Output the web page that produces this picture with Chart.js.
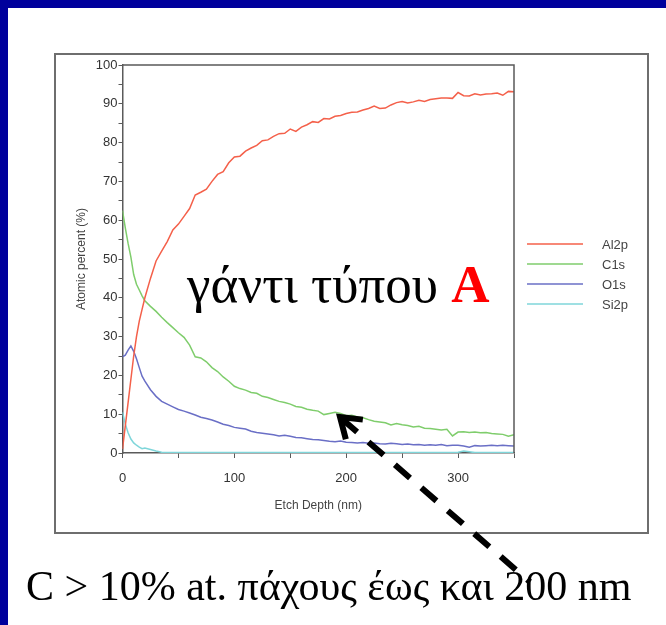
<!DOCTYPE html>
<html>
<head>
<meta charset="utf-8">
<script src="https://cdn.jsdelivr.net/npm/chart.js@4.4.1/dist/chart.umd.min.js"></script>
<style>
  html, body { margin: 0; padding: 0; background: #fff; }
  #wrap { width: 666px; height: 625px; }
</style>
</head>
<body>
<div id="wrap"><canvas id="graph1" width="666" height="625"></canvas></div>
<script>
// etch depth (nm)
var depth = [0, 2.5, 5, 7.5, 10, 12.5, 15, 17.5, 20,
    25, 30, 35, 40, 45, 50, 55, 60, 65, 70, 75, 80, 85, 90, 95, 100,
    105, 110, 115, 120, 125, 130, 135, 140, 145, 150, 155, 160, 165, 170, 175, 180,
    185, 190, 195, 200, 205, 210, 215, 220, 225, 230, 235, 240, 245, 250, 255, 260,
    265, 270, 275, 280, 285, 290, 295, 300, 305, 310, 315, 320, 325, 330, 335, 340, 345, 350];

var al2p = [1, 7, 13, 19, 25, 30, 34, 37, 40,
    45, 49.5, 52, 54.5, 57.5, 59, 61, 63, 66.5, 67.2, 68, 70, 71.8, 72.5, 74.8, 76.3,
    76.5, 77.8, 78.6, 79.3, 80.5, 80.7, 81.6, 82.3, 82.4, 83.5, 82.9, 84.0, 84.6, 85.4, 85.2, 86.2,
    86.1, 86.8, 87.0, 87.5, 87.8, 87.9, 88.4, 88.8, 89.4, 88.8, 88.9, 89.7, 90.3, 90.6, 90.2, 90.5,
    90.9, 90.6, 91.1, 91.3, 91.5, 91.5, 91.4, 92.9, 92.1, 92.0, 92.6, 92.3, 92.5, 92.6, 92.8, 92.2, 93.2, 93.1];

var c1s = [62.5, 58, 54, 50.5, 46, 43.5, 42, 40.5, 39.2,
    37.8, 36.5, 35, 33.6, 32.3, 31.0, 29.8, 27.8, 24.8, 24.5, 23.5, 22.0, 21.0, 19.6, 18.5, 17.2,
    16.6, 16.2, 15.6, 15.4, 14.6, 14.3, 13.8, 13.3, 13.0, 12.6, 12.0, 11.8, 11.3, 11.0, 10.8, 9.9,
    10.2, 10.5, 10.2, 9.6, 9.7, 9.3, 9.1, 8.6, 8.2, 8.0, 7.8, 7.2, 7.6, 7.3, 7.1, 6.7,
    6.9, 6.4, 6.3, 6.1, 5.9, 6.1, 4.4, 5.4, 5.5, 5.3, 5.4, 5.2, 5.3, 5.0, 4.9, 4.8, 4.3, 4.7];

var o1s = [24.8, 25.2, 26.5, 27.6, 26.2, 24.3, 22.0, 19.8, 18.5,
    16.3, 14.6, 13.3, 12.6, 11.9, 11.2, 10.8, 10.3, 9.8, 9.2, 8.9, 8.5, 8.0, 7.4, 7.1, 6.6,
    6.4, 6.2, 5.6, 5.3, 5.1, 4.9, 4.7, 4.4, 4.6, 4.3, 4.0, 3.9, 3.7, 3.5, 3.4, 3.2,
    3.0, 2.9, 3.1, 2.8, 2.7, 2.6, 2.7, 2.5, 2.6, 2.4, 2.3, 2.5, 2.4, 2.2, 2.3, 2.1,
    2.2, 2.0, 2.1, 2.0, 2.2, 1.9, 2.0, 2.0, 1.8, 1.5, 1.9, 1.8, 1.9, 2.0, 1.9, 2.0, 1.9, 1.8];

var si2p = [10.5, 7.5, 5.2, 3.6, 2.6, 2.0, 1.5, 1.1, 1.3,
    0.9, 0.5, 0.2, 0.1, 0.1, 0.1, 0.1, 0.1, 0.1, 0.1, 0.1, 0.1, 0.1, 0.1, 0.1, 0.1,
    0.1, 0.1, 0.1, 0.1, 0.1, 0.1, 0.1, 0.1, 0.1, 0.1, 0.1, 0.1, 0.1, 0.1, 0.1, 0.1,
    0.1, 0.1, 0.1, 0.1, 0.1, 0.1, 0.1, 0.1, 0.1, 0.1, 0.1, 0.1, 0.1, 0.1, 0.1, 0.1,
    0.1, 0.1, 0.1, 0.1, 0.1, 0.1, 0.1, 0.2, 0.5, 0.3, 0.1, 0.1, 0.1, 0.1, 0.1, 0.1, 0.1, 0.1];

var seriesNames = ['Al2p', 'C1s', 'O1s', 'Si2p'];
var seriesColors = ['#f4604a', '#7fcd6c', '#6a6fc6', '#7fd6da'];
var seriesValues = [al2p, c1s, o1s, si2p];

function toPoints(values) {
    return depth.map(function(d, i) { return { x: d, y: values[i] }; });
}

var datasets = seriesNames.map(function(name, k) {
    return {
        label: name,
        data: toPoints(seriesValues[k]),
        borderColor: seriesColors[k],
        backgroundColor: seriesColors[k],
        borderWidth: 1.5,
        pointRadius: 0,
        tension: 0,
        fill: false
    };
});

var axisGray = '#5a5a5a';
var tickFont = { family: 'Liberation Sans', size: 13 };

// frame, box, legend, overlay texts and arrow
var slidePlugin = {
    id: 'slide',
    beforeDraw: function(chart) {
        var c = chart.ctx;
        c.save();
        c.fillStyle = '#ffffff';
        c.fillRect(0, 0, chart.width, chart.height);
        c.fillStyle = '#00009c';
        c.fillRect(0, 0, chart.width, 8);
        c.fillRect(0, 0, 8, chart.height);
        c.strokeStyle = '#6e6e6e';
        c.lineWidth = 2;
        c.strokeRect(55, 54, 593, 479);
        c.restore();
    },
    afterDraw: function(chart) {
        var c = chart.ctx;
        var a = chart.chartArea;
        c.save();
        // top and right border of the plot
        c.strokeStyle = axisGray;
        c.lineWidth = 1.5;
        c.beginPath();
        c.moveTo(a.left, a.top);
        c.lineTo(a.right, a.top);
        c.lineTo(a.right, a.bottom);
        c.stroke();

        // legend
        c.font = '13px "Liberation Sans"';
        c.textBaseline = 'middle';
        c.textAlign = 'left';
        chart.data.datasets.forEach(function(ds, i) {
            var y = 244 + i * 20;
            c.strokeStyle = ds.borderColor;
            c.lineWidth = 1.5;
            c.beginPath();
            c.moveTo(527, y);
            c.lineTo(583, y);
            c.stroke();
            c.fillStyle = '#444';
            c.fillText(ds.label, 602, y + 1);
        });

        // big overlay label
        c.textBaseline = 'alphabetic';
        c.font = '53px "Liberation Serif"';
        c.fillStyle = '#000';
        var t1 = 'γάντι τύπου ';
        c.fillText(t1, 187, 302);
        var w1 = c.measureText(t1).width;
        c.font = 'bold 53px "Liberation Serif"';
        c.fillStyle = '#ff0000';
        c.fillText('A', 187 + w1, 302);

        // bottom caption
        c.font = '42px "Liberation Serif"';
        c.fillStyle = '#000';
        c.fillText('C > 10% at. πάχους έως και 200 nm', 26, 600);

        // dashed arrow, drawn from the tip
        var x0 = 530, y0 = 582, x1 = 340, y1 = 417;
        c.strokeStyle = '#000';
        c.lineWidth = 6;
        c.setLineDash([20, 15]);
        c.beginPath();
        c.moveTo(x1 + 2, y1 + 2);
        c.lineTo(x0, y0);
        c.stroke();
        c.setLineDash([]);
        var ang = Math.atan2(y0 - y1, x0 - x1);
        c.lineJoin = 'miter';
        c.beginPath();
        c.moveTo(x1 + 23 * Math.cos(ang - 0.6), y1 + 23 * Math.sin(ang - 0.6));
        c.lineTo(x1, y1);
        c.lineTo(x1 + 23 * Math.cos(ang + 0.6), y1 + 23 * Math.sin(ang + 0.6));
        c.stroke();
        c.restore();
    }
};

window.onload = function() {
    var ctx = document.getElementById('graph1').getContext('2d');
    window.depthProfileChart = new Chart(ctx, {
        type: 'line',
        data: { datasets: datasets },
        plugins: [slidePlugin],
        options: {
            responsive: false,
            animation: false,
            layout: {
                padding: { left: 70, right: 152, top: 65, bottom: 102 }
            },
            plugins: {
                legend: { display: false },
                tooltip: { enabled: false }
            },
            scales: {
                x: {
                    type: 'linear',
                    min: 0,
                    max: 350,
                    afterFit: function(scale) { scale.height = 70; },
                    ticks: {
                        stepSize: 50,
                        padding: 13,
                        color: '#333',
                        font: tickFont,
                        maxRotation: 0,
                        callback: function(v) { return v % 100 === 0 ? v : ''; }
                    },
                    grid: {
                        drawOnChartArea: false,
                        drawTicks: true,
                        tickLength: 5,
                        color: axisGray
                    },
                    border: { display: true, color: axisGray, width: 1.5 },
                    title: {
                        display: true,
                        text: 'Etch Depth (nm)',
                        color: '#444',
                        font: { family: 'Liberation Sans', size: 12 },
                        padding: { top: 0, bottom: 10 }
                    }
                },
                y: {
                    min: 0,
                    max: 100,
                    afterFit: function(scale) { scale.width = 52.5; },
                    ticks: {
                        stepSize: 5,
                        padding: 1,
                        color: '#333',
                        font: tickFont,
                        callback: function(v) { return v % 10 === 0 ? v : ''; }
                    },
                    grid: {
                        drawOnChartArea: false,
                        drawTicks: true,
                        tickLength: 4,
                        color: axisGray
                    },
                    border: { display: true, color: axisGray, width: 1.5 },
                    title: {
                        display: true,
                        text: 'Atomic percent (%)',
                        color: '#444',
                        font: { family: 'Liberation Sans', size: 12 },
                        padding: { top: 4, bottom: 0 }
                    }
                }
            }
        }
    });
};
</script>
</body>
</html>
